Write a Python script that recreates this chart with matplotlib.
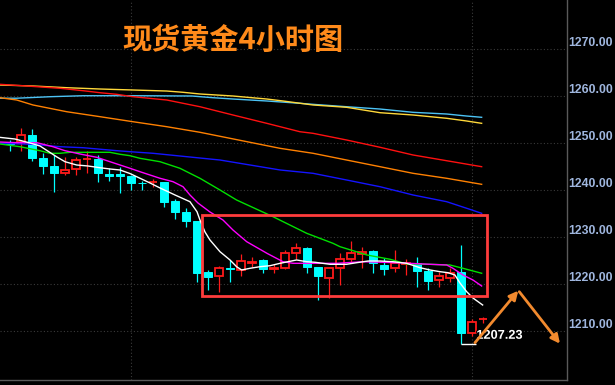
import matplotlib
matplotlib.use("Agg")
import matplotlib.pyplot as plt
import matplotlib.patheffects as pe
from matplotlib.patches import Rectangle
import numpy as np

# ---------------- data ----------------
title = "现货黄金4小时图"
opens  = [1249.9, 1250.3, 1251.7, 1246.8, 1245.1, 1243.7, 1244.5, 1246.5, 1246.6, 1243.4,
          1243.4, 1242.9, 1241.5, 1241.6, 1241.6, 1237.7, 1235.4, 1233.3, 1222.6, 1221.8,
          1223.4, 1223.0, 1224.55, 1225.0, 1223.2, 1223.3, 1226.6, 1227.6, 1223.6, 1221.3,
          1223.5, 1225.3, 1226.4, 1227.0, 1224.0, 1223.5, 1224.35, 1224.5, 1222.8, 1220.9,
          1221.3, 1222.6, 1209.5, 1212.5]
closes = [1249.7, 1251.7, 1246.9, 1245.2, 1243.7, 1244.3, 1246.4, 1246.6, 1243.6, 1242.9,
          1242.9, 1241.4, 1241.4, 1241.7, 1237.5, 1235.4, 1233.3, 1222.4, 1221.5, 1223.3,
          1223.1, 1224.8, 1224.65, 1223.2, 1223.5, 1226.5, 1227.6, 1223.7, 1221.6, 1223.3,
          1225.3, 1226.5, 1226.9, 1224.4, 1223.2, 1224.4, 1224.45, 1222.8, 1220.7, 1221.7,
          1222.4, 1209.6, 1212.0, 1212.6]
highs  = [1250.6, 1253.2, 1253.0, 1247.9, 1247.5, 1247.0, 1247.0, 1248.3, 1247.5, 1244.7,
          1245.0, 1243.2, 1242.0, 1242.3, 1241.8, 1238.1, 1236.2, 1233.3, 1223.0, 1223.8,
          1225.0, 1226.4, 1225.7, 1225.3, 1224.2, 1227.2, 1228.7, 1227.9, 1223.6, 1223.3,
          1226.5, 1229.2, 1227.9, 1227.2, 1225.6, 1227.2, 1225.3, 1225.8, 1223.5, 1222.6,
          1223.5, 1228.3, 1212.5, 1213.0]
lows   = [1248.2, 1248.4, 1246.2, 1243.4, 1239.6, 1243.2, 1243.2, 1243.7, 1241.8, 1241.9,
          1239.3, 1239.9, 1240.0, 1240.6, 1236.3, 1233.8, 1232.1, 1220.5, 1218.7, 1218.2,
          1220.5, 1221.6, 1223.7, 1222.4, 1222.4, 1223.1, 1225.3, 1222.4, 1216.6, 1217.0,
          1219.8, 1224.4, 1223.5, 1222.4, 1221.9, 1222.6, 1221.9, 1219.4, 1218.7, 1219.4,
          1220.5, 1207.23, 1208.9, 1211.6]

# moving-average lines (x in candle index units)
white_x = [-0.91, 0.45, 1.82, 2.73, 4.27, 5.0, 6.06, 7.09, 8.18, 9.09, 10.0, 10.9, 12.73, 13.64,
           15.0, 16.36, 17.0, 17.27, 17.73, 18.18, 19.09, 20.0, 20.6, 21.06, 21.82, 22.73, 23.64,
           24.55, 26.06, 26.97, 27.73, 29.09, 30.6, 31.52, 32.55, 33.64, 34.82, 36.06, 37.27,
           38.18, 39.09, 39.82, 40.45, 40.91, 41.52, 42.09, 42.97]
white_y = [1251.2, 1250.85, 1250.0, 1249.36, 1247.02, 1246.02, 1245.32, 1245.11, 1244.74, 1244.47,
           1244.26, 1243.51, 1241.49, 1240.43, 1238.94, 1237.51, 1235.38, 1233.62, 1231.06, 1229.36,
           1226.87, 1225.11, 1223.68, 1222.98, 1223.34, 1223.68, 1223.89, 1224.4, 1225.11, 1224.74,
           1224.62, 1224.19, 1224.19, 1224.53, 1224.89, 1224.89, 1224.74, 1224.4, 1223.47, 1222.98,
           1222.62, 1222.4, 1221.91, 1220.21, 1218.36, 1217.02, 1215.53]
magenta_x = [-0.91, 0.64, 2.45, 3.91, 5.0, 6.36, 7.88, 9.09, 10.0, 10.91, 11.82, 13.64, 14.82,
             15.73, 16.36, 17.09, 18.18, 19.36, 20.27, 21.52, 23.36, 24.82, 25.73, 29.73, 32.09,
             35.18, 38.18, 39.7, 40.27, 41.18, 42.09, 42.88]
magenta_y = [1250.21, 1250.06, 1250.06, 1249.21, 1248.36, 1247.66, 1246.96, 1246.02, 1245.32,
             1244.62, 1243.89, 1242.49, 1241.77, 1240.7, 1238.94, 1237.23, 1235.32, 1233.62,
             1231.49, 1229.0, 1226.53, 1224.74, 1224.4, 1224.4, 1224.74, 1224.53, 1224.19,
             1224.04, 1223.34, 1221.91, 1220.85, 1219.57]
green_x = [-0.91, 0.91, 2.73, 3.64, 4.55, 5.45, 9.09, 10.0, 10.91, 11.82, 13.64, 15.45, 17.27,
           19.09, 20.6, 23.91, 26.97, 29.36, 30.0, 32.45, 34.55, 36.06, 38.18, 40.0, 41.18, 42.88]
green_y = [1249.79, 1249.21, 1248.36, 1247.81, 1247.81, 1248.02, 1248.02, 1247.6, 1247.3, 1246.74,
           1246.02, 1244.62, 1242.49, 1240.0, 1237.87, 1234.32, 1230.79, 1228.66, 1227.94, 1226.17,
           1225.26, 1224.26, 1224.19, 1224.04, 1223.34, 1222.28]
blue_x = [-0.91, 2.09, 4.55, 6.64, 9.73, 10.91, 13.0, 16.06, 19.09, 24.55, 27.55, 30.6, 33.64,
          36.64, 39.7, 41.52, 42.88]
blue_y = [1249.94, 1249.72, 1249.21, 1249.0, 1248.36, 1248.15, 1247.81, 1247.09, 1246.38, 1244.26,
          1243.55, 1242.13, 1240.7, 1238.94, 1237.51, 1236.11, 1235.04]
orange_x = [-0.91, 0.61, 2.09, 5.15, 8.18, 11.18, 14.25, 17.27, 24.55, 27.55, 30.6, 33.64, 36.64,
            39.7, 42.88]
orange_y = [1259.64, 1259.15, 1258.09, 1256.66, 1255.6, 1254.53, 1253.47, 1252.28, 1248.87,
            1247.81, 1246.38, 1244.96, 1243.55, 1242.49, 1241.21]
red_x = [-0.91, 1.52, 4.55, 6.64, 8.18, 9.7, 11.18, 14.25, 17.27, 20.27, 23.34, 26.36, 27.55,
         30.6, 33.64, 36.64, 39.7, 42.88]
red_y = [1262.49, 1262.13, 1261.64, 1261.13, 1260.7, 1260.36, 1259.85, 1259.15, 1257.72, 1255.96,
         1254.19, 1252.4, 1252.06, 1250.64, 1249.09, 1247.45, 1246.23, 1244.96]
yellow_x = [-0.91, 2.09, 5.15, 8.18, 11.18, 14.25, 15.73, 17.27, 20.27, 23.34, 24.82, 27.55, 30.6,
            33.64, 36.64, 39.7, 41.52, 42.88]
yellow_y = [1262.34, 1262.13, 1261.77, 1261.49, 1261.28, 1261.06, 1260.79, 1260.43, 1260.0,
            1259.36, 1258.94, 1258.09, 1257.6, 1256.45, 1255.96, 1255.26, 1254.68, 1254.19]
sky_x = [-0.91, 0.61, 3.64, 6.64, 11.18, 16.52, 18.45, 20.27, 23.34, 26.36, 27.55, 30.6, 33.64,
         36.64, 39.7, 41.52, 42.88]
sky_y = [1259.53, 1259.53, 1259.85, 1260.06, 1260.06, 1260.0, 1259.64, 1259.36, 1258.94, 1258.45,
         1258.23, 1257.72, 1257.23, 1256.53, 1256.17, 1255.74, 1255.47]

y_ticks = [1210, 1220, 1230, 1240, 1250, 1260, 1270]
low_label = "1207.23"
box = (17.48, 43.39, 1217.55, 1234.68)  # x0, x1, y0, y1 of highlight box
arrow_up = ((42.27, 1207.51), (46.21, 1218.57))
arrow_down = ((46.3, 1218.36), (50.0, 1207.3))

# ---------------- figure ----------------
W, H = 615, 385
fig = plt.figure(figsize=(W / 100, H / 100), dpi=100, facecolor="black")
ax = fig.add_axes([0, 5 / H, 567 / W, 380 / H], facecolor="black")
ax.set_xlim(-0.91, 50.64)
ax.set_ylim(1199.57, 1280.43)

# grid
ax.set_yticks(y_ticks)
ax.set_xticks([11, 42])
ax.set_xticklabels([])
ax.grid(True, color="#3a3a3a", linestyle=(0, (1, 2)), linewidth=0.8)
ax.set_axisbelow(True)

# candles
cyan = "#00ffff"
redc = "#ff1a1a"
bw = 0.78
x = np.arange(len(opens))
for i in x:
    o, c, h, l = opens[i], closes[i], highs[i], lows[i]
    lo, hi = min(o, c), max(o, c)
    if c < o:
        ax.vlines(i, l, h, color=cyan, lw=0.9, zorder=2)
        ax.bar(i, hi - lo, bottom=lo, width=bw, color=cyan, edgecolor=cyan, lw=0.7, zorder=3)
    else:
        ax.vlines(i, l, lo, color=redc, lw=0.9, zorder=2)
        ax.vlines(i, hi, h, color=redc, lw=0.9, zorder=2)
        ax.bar(i, hi - lo, bottom=lo, width=bw - 0.1, facecolor="black", edgecolor=redc,
               lw=1.3, zorder=3)

# moving averages
lines = [
    (sky_x, sky_y, "#4cc3f5"),
    (yellow_x, yellow_y, "#ffd83a"),
    (red_x, red_y, "#ff1010"),
    (orange_x, orange_y, "#ff8000"),
    (blue_x, blue_y, "#1414ff"),
    (green_x, green_y, "#00e000"),
    (magenta_x, magenta_y, "#ff00ff"),
    (white_x, white_y, "#ffffff"),
]
for lx, ly, col in lines:
    ax.plot(lx, ly, color=col, lw=1.0, zorder=4, solid_joinstyle="miter")

# highlight box
ax.add_patch(Rectangle((box[0], box[2]), box[1] - box[0], box[3] - box[2], fill=False,
                       edgecolor="#ff3c3c", lw=2.0, zorder=6))

# low marker and label
low_i = int(np.argmin(lows))
ax.hlines(lows[low_i], low_i, low_i + 1.35, color="white", lw=1.0, zorder=5)
ax.text(low_i + 1.4, lows[low_i] + 1.75, low_label, color="white", fontsize=9.2,
        fontweight="bold", family="Liberation Sans", va="center", ha="left", zorder=7,
        path_effects=[pe.withStroke(linewidth=1.5, foreground="black")])

# arrows
acol = "#f28a2e"
for (p0, p1) in (arrow_up, arrow_down):
    ax.annotate("", xy=p1, xytext=p0,
                arrowprops=dict(arrowstyle="-|>", color=acol, lw=2.0, mutation_scale=13,
                                shrinkA=0, shrinkB=0), zorder=7)

# title
ax.text(233 / 567 * (50.64 + 0.91) - 0.91, 1260 + (96 - 40) / 4.7, title, color="#ff8a1a",
        fontsize=21, fontweight="bold", family=["Noto Sans CJK SC", "DejaVu Sans"],
        ha="center", va="center", zorder=7)

# axes styling
for s in ("top", "left"):
    ax.spines[s].set_visible(False)
ax.spines["right"].set_color("#5a5a5a")
ax.spines["bottom"].set_color("#5a5a5a")
ax.spines["right"].set_linewidth(1.0)
ax.spines["bottom"].set_linewidth(1.0)
ax.yaxis.tick_right()
ax.tick_params(axis="y", length=0, pad=1, labelsize=8.8, labelcolor="#9fb6de")
ax.tick_params(axis="x", length=0)
ax.set_yticklabels([f"{v:.2f}" for v in y_ticks])
for lbl in ax.get_yticklabels():
    lbl.set_fontfamily("Liberation Sans")
    lbl.set_fontweight("bold")
    lbl.set_verticalalignment("bottom")

fig.savefig("out.png", dpi=100, facecolor="black")
